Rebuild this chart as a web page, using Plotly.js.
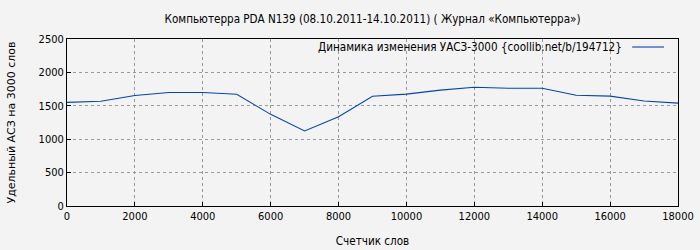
<!DOCTYPE html>
<html><head><meta charset="utf-8">
<script src="https://cdn.plot.ly/plotly-3.0.1.min.js"></script>
<style>html,body{margin:0;padding:0;background:#f3f3f3;}#c{width:700px;height:250px;}</style>
</head><body><div id="c"></div>
<script>
const words = [0,1000,2000,3000,4000,5000,6000,7000,8000,9000,10000,11000,12000,13000,14000,15000,16000,17000,18000];
const uasz  = [1552,1567,1655,1700,1700,1672,1372,1123,1337,1642,1675,1735,1778,1762,1762,1658,1645,1572,1540];
const seriesName = "Динамика изменения УАСЗ-3000 {coollib.net/b/194712}";
const titleText = "Компьютерра PDA N139 (08.10.2011-14.10.2011) ( Журнал «Компьютерра»)";
const xTitle = "Счетчик слов";
const yTitle = "Удельный АСЗ на 3000 слов";
const xTicks = [0,2000,4000,6000,8000,10000,12000,14000,16000,18000];
const yTicks = [0,500,1000,1500,2000,2500];

const font = "DejaVu Sans Condensed, DejaVu Sans, sans-serif";
const lineColor = '#0645ad';
Plotly.newPlot('c', [{
  x: words, y: uasz, type: 'scatter', mode: 'lines', name: seriesName,
  line: {color: lineColor, width: 1.1}
}], {
  width: 700, height: 250,
  paper_bgcolor: '#f3f3f3', plot_bgcolor: '#f3f3f3',
  margin: {l: 67, r: 22, t: 39, b: 44},
  font: {family: font, size: 11, color: '#000'},
  title: {text: titleText, xref: 'paper', x: 0.5, xanchor: 'center', y: 0.925, yanchor: 'middle', font: {family: font, size: 11.6}},
  showlegend: false,
  annotations: [{xref: 'paper', yref: 'paper', x: 0.912, y: 0.952, xanchor: 'right', yanchor: 'middle',
                 text: seriesName, showarrow: false, font: {family: font, size: 11.6}}],
  shapes: [{type: 'line', xref: 'paper', yref: 'paper', x0: 0.925, x1: 0.977, y0: 0.952, y1: 0.952,
            line: {color: lineColor, width: 1.1}}],
  xaxis: {range: [0,18000], tickvals: xTicks, ticktext: xTicks.map(String), showgrid: true,
          gridcolor: '#999', griddash: 'dot', gridwidth: 1, zeroline: false,
          showline: true, linecolor: '#000', linewidth: 1, mirror: true,
          ticks: 'inside', ticklen: 4, tickcolor: '#000',
          title: {text: xTitle, font: {family: font, size: 11.6}, standoff: 14}},
  yaxis: {range: [0,2500], tickvals: yTicks, ticktext: yTicks.map(String), showgrid: true,
          gridcolor: '#999', griddash: 'dot', gridwidth: 1, zeroline: false,
          showline: true, linecolor: '#000', linewidth: 1, mirror: true,
          ticks: 'inside', ticklen: 4, tickcolor: '#000',
          title: {text: yTitle, font: {family: "DejaVu Sans, sans-serif", size: 11}, standoff: 20}}
}, {staticPlot: true});
</script></body></html>
